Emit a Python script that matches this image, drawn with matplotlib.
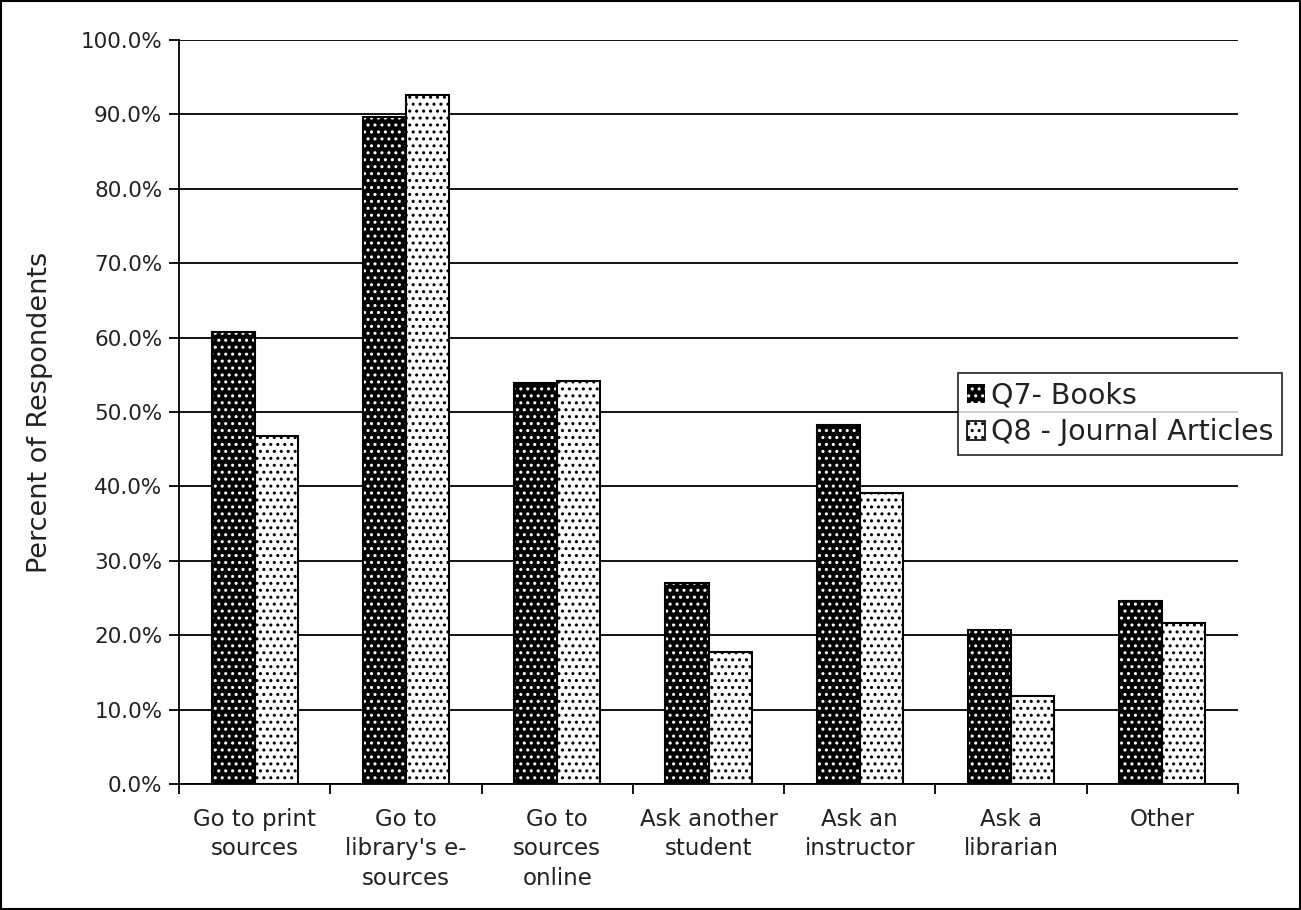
import numpy as np
import matplotlib.pyplot as plt
from matplotlib.patches import Rectangle, Patch
from matplotlib.ticker import FixedLocator, PercentFormatter

categories = ["Go to print\nsources", "Go to\nlibrary's e-\nsources", "Go to\nsources\nonline",
              "Ask another\nstudent", "Ask an\ninstructor", "Ask a\nlibrarian", "Other"]
q7_books = [60.7, 89.6, 53.9, 27.0, 48.2, 20.7, 24.6]
q8_articles = [46.8, 92.6, 54.2, 17.7, 39.1, 11.8, 21.6]
series_names = ["Q7- Books", "Q8 - Journal Articles"]

DPI = 125
k = 100 / DPI  # sizes below are given as if at 100 dpi

plt.rcParams['font.family'] = ['DejaVu Sans']
plt.rcParams['hatch.linewidth'] = 1.25 * k
txt = '#222222'

fig = plt.figure(figsize=(1301 / DPI, 910 / DPI), dpi=DPI)
ax = fig.add_axes([179 / 1301, 1 - 784 / 910, (1238 - 179) / 1301, (784 - 40) / 910])

x = np.arange(len(categories))
w = 0.285

# dark bars: black fill with white dots
ax.bar(x - w / 2, q7_books, w, facecolor='black', edgecolor='white', hatch='...', linewidth=0, zorder=3)
ax.bar(x - w / 2, q7_books, w, fill=False, edgecolor='black', linewidth=1.5 * k, zorder=4)
# light bars: white fill with black dots
ax.bar(x + w / 2, q8_articles, w, facecolor='white', edgecolor='black', hatch='...', linewidth=0, zorder=3)
ax.bar(x + w / 2, q8_articles, w, fill=False, edgecolor='black', linewidth=1.5 * k, zorder=4)

ax.set_xlim(-0.5, len(categories) - 0.5)
ax.set_ylim(0, 100)
ax.set_yticks(np.arange(0, 101, 10))
ax.yaxis.set_major_formatter(PercentFormatter(decimals=1))
ax.yaxis.grid(True, color='black', linewidth=1.3 * k, zorder=0)
ax.set_axisbelow(True)

ax.xaxis.set_major_locator(FixedLocator(np.arange(-0.5, len(categories), 1)))
ax.xaxis.set_major_formatter(plt.NullFormatter())
ax.xaxis.set_minor_locator(FixedLocator(x))
ax.set_xticklabels(categories, minor=True, linespacing=1.38)
ax.tick_params(axis='x', which='minor', length=0, pad=17 * k, labelsize=16.5 * k, labelcolor=txt)
ax.tick_params(axis='x', which='major', length=7 * k, width=1.3 * k, direction='out')
ax.tick_params(axis='y', length=7 * k, width=1.3 * k, direction='out', labelsize=15.5 * k,
               pad=5 * k, labelcolor=txt)

for s in ['top', 'right']:
    ax.spines[s].set_visible(False)
for s in ['left', 'bottom']:
    ax.spines[s].set_linewidth(1.3 * k)

ax.set_ylabel("Percent of Respondents", fontsize=19.5 * k, labelpad=20 * k, color=txt)

handles = [Patch(facecolor='black', edgecolor='white', hatch='...', linewidth=0),
           Patch(facecolor='white', edgecolor='black', hatch='...', linewidth=1.2 * k)]
leg = fig.legend(handles, series_names, loc='upper left', bbox_to_anchor=(958 / 1301, 1 - 373 / 910),
                 fontsize=20.5 * k, frameon=True, fancybox=False, handlelength=0.65, handleheight=0.65,
                 handletextpad=0.2, borderpad=0.3, labelspacing=0.3, borderaxespad=0,
                 labelcolor=txt)
leg.get_frame().set_edgecolor('black')
leg.get_frame().set_linewidth(1.3 * k)

fig.patches.append(Rectangle((0.001, 0.001), 0.998, 0.998, transform=fig.transFigure,
                             fill=False, edgecolor='black', linewidth=1.5 * k))

fig.savefig("out.png", dpi=DPI)
